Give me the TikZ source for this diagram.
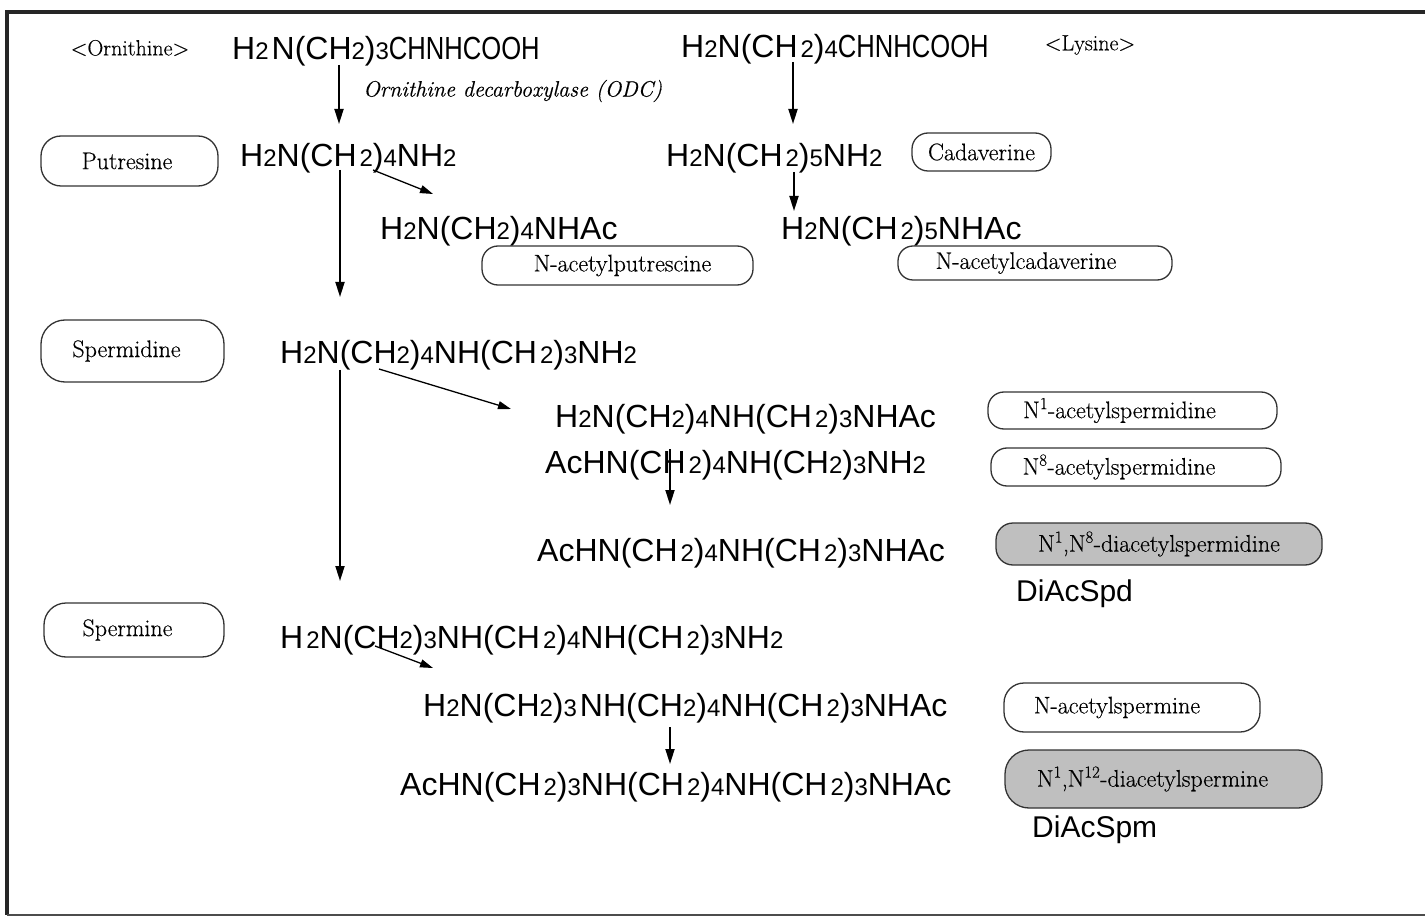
\documentclass[tikz,border=0pt]{standalone}
\usepackage{fontspec}
\usepackage{graphicx}
\newfontfamily\chemf{Liberation Sans}
\newfontfamily\lblfam{Latin Modern Roman}[FakeBold=0.4]
\usetikzlibrary{arrows.meta}
\newcommand{\fml}{\chemf\fontsize{32}{36}\selectfont}
\newcommand{\dg}[1]{{\fontsize{24}{24}\selectfont #1}}
\newcommand{\lblf}{\lblfam\fontsize{24}{28}\selectfont}
\newcommand{\gp}{\kern3pt}
\newcommand{\acid}{\scalebox{0.8}[1]{CHNHCOOH}}
\tikzset{
  fm/.style={inner sep=0pt, anchor=base west, font=\fml},
  plain/.style={inner sep=0pt, font=\lblfam\fontsize{22}{26}\selectfont},
  box/.style={draw=black!80, line width=1.3pt, inner sep=0pt, font=\lblf},
  gbox/.style={box, fill=black!25},
  arr/.style={line width=1.8pt, -{Triangle[length=15pt,width=9pt]}},
  darr/.style={line width=1.3pt, -{Triangle[length=13pt,width=8pt]}},
  sans/.style={inner sep=0pt, anchor=base west, font=\chemf\fontsize{30}{34}\selectfont}
}
\begin{document}
\begin{tikzpicture}[x=1pt,y=-1pt]
\useasboundingbox (0,0) rectangle (1425,917);
\draw[line width=3.5pt, black!85] (1425,12) -- (7,12) -- (7,915);
\draw[line width=2.5pt, black!70] (7,915) -- (1425,915);

% top row
\node[plain] (ornl) at (130,48) {<Ornithine>};
\node[fm] (orn) at (232,60) {H\dg{2}\gp N(CH\dg{2})\dg{3}\acid};
\node[fm] (lys) at (681,58) {H\dg{2}N(CH\gp\dg{2})\dg{4}\acid};
\node[plain] (lysl) at (1090,45) {<Lysine>};
\node[plain, anchor=west, font=\lblfam\itshape\fontsize{22.2}{26}\selectfont] (odc) at (363,91) {Ornithine decarboxylase (ODC)};

% putrescine / cadaverine
\node[box, minimum width=177pt, minimum height=50pt, rounded corners=20pt] (putb) at (129.5,161) {Putresine\hspace*{5pt}};
\node[fm] (put) at (240,167) {H\dg{2}N(CH\gp\dg{2})\dg{4}NH\dg{2}};
\node[fm] (cad) at (666,167) {H\dg{2}N(CH\gp\dg{2})\dg{5}NH\dg{2}};
\node[box, minimum width=139pt, minimum height=38pt, rounded corners=16pt] (cadb) at (981.5,152) {Cadaverine};

\node[fm] (aput) at (380,240) {H\dg{2}N(CH\dg{2})\dg{4}NHAc};
\node[fm] (acad) at (781,240) {H\dg{2}N(CH\gp\dg{2})\dg{5}NHAc};
\node[box, minimum width=271pt, minimum height=39pt, rounded corners=16pt] (aputb) at (617.5,265.5) {\hspace*{10pt}N-acetylputrescine};
\node[box, minimum width=274pt, minimum height=34pt, rounded corners=15pt] (acadb) at (1035,263) {N-acetylcadaverine\hspace*{18pt}};

% spermidine
\node[box, minimum width=183pt, minimum height=62pt, rounded corners=24pt] (spdb) at (132.5,351) {Spermidine\hspace*{12pt}};
\node[fm] (spd) at (280,363) {H\dg{2}N(CH\dg{2})\dg{4}NH(CH\gp\dg{2})\dg{3}NH\dg{2}};
\node[fm] (naspd) at (555,427) {H\dg{2}N(CH\dg{2})\dg{4}NH(CH\gp\dg{2})\dg{3}NHAc};
\node[fm] (n8spd) at (545,473) {AcHN(CH\gp\dg{2})\dg{4}NH(CH\dg{2})\dg{3}NH\dg{2}};
\node[box, minimum width=289pt, minimum height=37pt, rounded corners=16pt] (naspdb) at (1132.5,410.5) {N\textsuperscript{1}-acetylspermidine\hspace*{26pt}};
\node[box, minimum width=290pt, minimum height=38pt, rounded corners=16pt] (n8spdb) at (1136,467) {N\textsuperscript{8}-acetylspermidine\hspace*{34pt}};
\node[fm] (dspd) at (537,561) {AcHN(CH\gp\dg{2})\dg{4}NH(CH\gp\dg{2})\dg{3}NHAc};
\node[gbox, minimum width=326pt, minimum height=42pt, rounded corners=17pt] (dspdb) at (1159,544) {N\textsuperscript{1},N\textsuperscript{8}-diacetylspermidine};
\node[sans] (dspdt) at (1016,601) {DiAcSpd};

% spermine
\node[box, minimum width=180pt, minimum height=54pt, rounded corners=22pt] (spmb) at (134,630) {Spermine\hspace*{13pt}};
\node[fm] (spm) at (280,648) {H\gp\dg{2}N(CH\dg{2})\dg{3}NH(CH\gp\dg{2})\dg{4}NH(CH\gp\dg{2})\dg{3}NH\dg{2}};
\node[fm] (aspm) at (423,716) {H\dg{2}N(CH\dg{2})\dg{3}\gp NH(CH\dg{2})\dg{4}NH(CH\gp\dg{2})\dg{3}NHAc};
\node[fm] (dspm) at (400,795) {AcHN(CH\gp\dg{2})\dg{3}NH(CH\gp\dg{2})\dg{4}NH(CH\gp\dg{2})\dg{3}NHAc};
\node[box, minimum width=256pt, minimum height=49pt, rounded corners=20pt] (aspmb) at (1132,707.5) {N-acetylspermine\hspace*{30pt}};
\node[gbox, minimum width=317pt, minimum height=58pt, rounded corners=24pt] (dspmb) at (1163.5,779) {N\textsuperscript{1},N\textsuperscript{12}-diacetylspermine\hspace*{22pt}};
\node[sans] (dspmt) at (1032,837) {DiAcSpm};

% arrows
\coordinate (a1s) at (339,65);  \coordinate (a1e) at (339,124);
\coordinate (a2s) at (793,62);  \coordinate (a2e) at (793,124);
\coordinate (a3s) at (373,170); \coordinate (a3e) at (433,194);
\coordinate (a4s) at (340,170); \coordinate (a4e) at (340,297);
\coordinate (a5s) at (794,172); \coordinate (a5e) at (794,211);
\coordinate (a6s) at (379,369); \coordinate (a6e) at (511,409);
\coordinate (a7s) at (340,370); \coordinate (a7e) at (340,581);
\coordinate (a8s) at (670,449); \coordinate (a8e) at (670,505);
\coordinate (a9s) at (375,646); \coordinate (a9e) at (433,668);
\coordinate (a10s) at (670,727); \coordinate (a10e) at (670,764);
\draw[arr] (a1s) -- (a1e);
\draw[arr] (a2s) -- (a2e);
\draw[darr] (a3s) -- (a3e);
\draw[arr] (a4s) -- (a4e);
\draw[arr] (a5s) -- (a5e);
\draw[darr] (a6s) -- (a6e);
\draw[arr] (a7s) -- (a7e);
\draw[arr] (a8s) -- (a8e);
\draw[darr] (a9s) -- (a9e);
\draw[arr] (a10s) -- (a10e);
\end{tikzpicture}
\end{document}
